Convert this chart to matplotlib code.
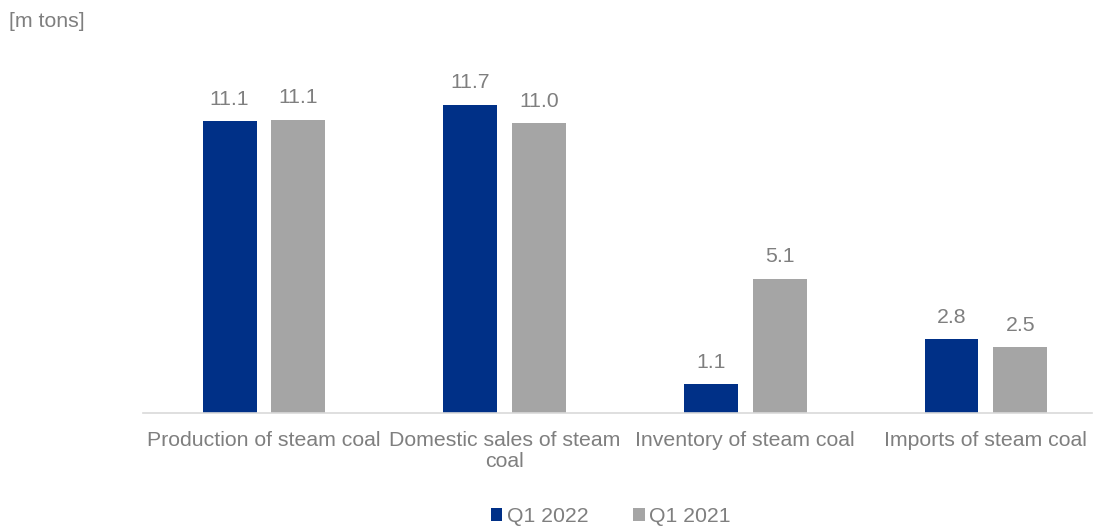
import numpy as np
import matplotlib.pyplot as plt

plt.rcParams['font.family'] = ['Liberation Sans', 'DejaVu Sans']

# data
categories = ['Production of steam coal', 'Domestic sales of steam\ncoal',
              'Inventory of steam coal', 'Imports of steam coal']
q1_2022 = [11.08, 11.7, 1.1, 2.8]
q1_2021 = [11.14, 11.0, 5.1, 2.5]

navy = '#003087'
grey = '#A5A5A5'
txt = '#7F7F7F'

fig = plt.figure(figsize=(10.94, 5.26), dpi=100)
ax = fig.add_axes([0.1307, 0.2148, 0.8673, 0.671])

x = np.arange(len(categories))
w = 0.224
gap = 0.062
b1 = ax.bar(x - (w + gap) / 2, q1_2022, w, color=navy, label='Q1 2022')
b2 = ax.bar(x + (w + gap) / 2, q1_2021, w, color=grey, label='Q1 2021')

for bars, vals in ((b1, q1_2022), (b2, q1_2021)):
    for b, v in zip(bars, vals):
        ax.annotate(f'{v:.1f}', (b.get_x() + b.get_width() / 2, v),
                    xytext=(0, 9), textcoords='offset points',
                    ha='center', va='bottom', fontsize=15.3, color=txt)

ax.set_xlim(-0.503, 3.44)
ax.set_ylim(0, 13.4)
ax.set_yticks([])
ax.set_xticks(x)
ax.set_xticklabels(categories, fontsize=15.3, color=txt, linespacing=1.15)
ax.tick_params(axis='x', length=0, pad=13)
for s in ['top', 'right', 'left']:
    ax.spines[s].set_visible(False)
ax.spines['bottom'].set_color('#D9D9D9')
ax.spines['bottom'].set_linewidth(1.2)

fig.text(0.008, 0.960, '[m tons]', fontsize=15.3, color=txt, ha='left', va='center')

fig.legend(loc='center', bbox_to_anchor=(0.558, 0.018), ncol=2, frameon=False,
           fontsize=15.3, labelcolor=txt, handlelength=0.55, handleheight=0.55,
           handletextpad=0.2, columnspacing=2.1)

fig.savefig('out.png', dpi=100)
